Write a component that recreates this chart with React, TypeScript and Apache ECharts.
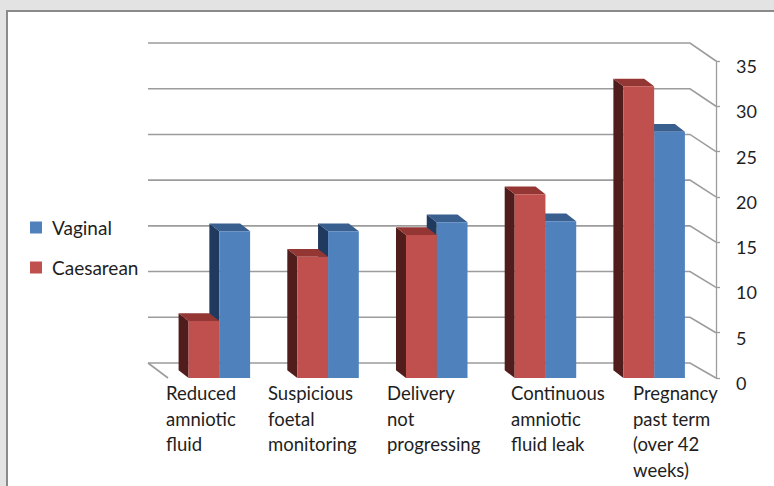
import React, { useEffect, useRef } from 'react';
import * as echarts from 'echarts';

// ---------- data ----------
const categories = [
  'Reduced\namniotic\nfluid',
  'Suspicious\nfoetal\nmonitoring',
  'Delivery\nnot\nprogressing',
  'Continuous\namniotic\nfluid leak',
  'Pregnancy\npast term\n(over 42\nweeks)',
];
const vaginal = [16.2, 16.2, 17.2, 17.3, 27.2];
const caesarean = [6.3, 13.4, 15.8, 20.3, 32.2];
const yTicks = [0, 5, 10, 15, 20, 25, 30, 35];
const seriesNames = ['Vaginal', 'Caesarean'];

// ---------- style / layout ----------
const FONT = 'Lato, "Noto Sans", "DejaVu Sans", sans-serif';
const TEXT = '#1e1e1e';
const GRID_COLOR = '#9c9c9c';
const RED = { front: '#C0504D', side: '#511d1c', top: '#933634' };
const BLUE = { front: '#4F81BD', side: '#1f3a5e', top: '#395f8f' };
const DEPTH_X = -10;
const DEPTH_Y = -7.7;
const BAR_FRAC = 0.283;
const AXIS_OFFSET = 7.5;
const BACK_DX_LEFT = -17;
const BACK_DX_RIGHT = -18.5;
const BACK_DY_BOTTOM = -15;
const BACK_DY_TOP = -18;
const LABEL_GRID_LEFT = 92;
const LABEL_BAND = 117;
const LABEL_LEFTS = [166, 268, 387, 511, 633];

function barRenderer(side: 'left' | 'right', colors: { front: string; side: string; top: string }) {
  return (params: any, api: any) => {
    const idx = api.value(0);
    const val = api.value(1);
    const base = api.coord([idx, 0]);
    const cx = base[0];
    const yb = base[1];
    const yt = api.coord([idx, val])[1];
    const band = api.size([1, 0])[0];
    const w = band * BAR_FRAC;
    const x0 = side === 'left' ? cx - w : cx;
    const x1 = x0 + w;
    return {
      type: 'group',
      children: [
        {
          type: 'polygon',
          shape: { points: [[x0, yt], [x0 + DEPTH_X, yt + DEPTH_Y], [x0 + DEPTH_X, yb + DEPTH_Y], [x0, yb]] },
          style: { fill: colors.side },
        },
        {
          type: 'polygon',
          shape: { points: [[x0, yt], [x1, yt], [x1 + DEPTH_X, yt + DEPTH_Y], [x0 + DEPTH_X, yt + DEPTH_Y]] },
          style: { fill: colors.top },
        },
        {
          type: 'rect',
          shape: { x: x0, y: yt, width: w, height: yb - yt },
          style: { fill: colors.front },
        },
      ],
    };
  };
}

function gridRenderer(params: any, api: any) {
  const cs = params.coordSys;
  const v = api.value(1);
  const y = api.coord([0, v])[1];
  const bottom = cs.y + cs.height;
  const frac = (bottom - y) / cs.height;
  const by = y + BACK_DY_BOTTOM + (BACK_DY_TOP - BACK_DY_BOTTOM) * frac;
  const bl = cs.x + BACK_DX_LEFT;
  const br = cs.x + cs.width + BACK_DX_RIGHT;
  const ax = cs.x + cs.width + AXIS_OFFSET;
  const style = { stroke: GRID_COLOR, lineWidth: 1.6, fill: 'none' };
  const children: any[] = [
    { type: 'polyline', shape: { points: [[bl, by], [br, by], [ax, y]] }, style },
  ];
  if (v === 0) {
    children.push({ type: 'line', shape: { x1: bl, y1: by, x2: cs.x + 3, y2: bottom }, style });
  }
  return { type: 'group', children };
}

export default function App() {
  const ref = useRef<HTMLDivElement>(null);

  useEffect(() => {
    if (!ref.current) return;
    const chart = echarts.init(ref.current, undefined, { renderer: 'svg' });

    const rich: any = {};
    categories.forEach((_, i) => {
      const tickX = LABEL_GRID_LEFT + LABEL_BAND * (i + 0.5);
      rich['p' + i] = {
        fontFamily: FONT,
        fontSize: 18.5,
        lineHeight: 25.7,
        color: TEXT,
        padding: [0, 0, 0, Math.max(0, LABEL_LEFTS[i] - tickX)],
      };
    });

    chart.setOption({
      animation: false,
      backgroundColor: '#e3e3e3',
      graphic: {
        elements: [
          {
            type: 'rect',
            z: -10,
            shape: { x: 7, y: 11, width: 800, height: 500 },
            style: { fill: '#ffffff', stroke: '#8a8a8a', lineWidth: 2 },
          },
        ],
      },
      legend: {
        data: seriesNames,
        orient: 'vertical',
        left: 30,
        top: 218,
        padding: 0,
        itemGap: 21,
        itemWidth: 12,
        itemHeight: 12,
        icon: 'rect',
        textStyle: { fontFamily: FONT, fontSize: 19, color: TEXT, padding: [0, 0, 10, 5] },
      },
      grid: [
        { left: 165, right: 65.5, top: 61, bottom: 108 },
        { left: LABEL_GRID_LEFT, width: LABEL_BAND * categories.length, top: 300, height: 78 },
      ],
      xAxis: [
        {
          type: 'category',
          gridIndex: 0,
          data: categories,
          axisLine: { show: false },
          axisTick: { show: false },
          axisLabel: { show: false },
        },
        {
          type: 'category',
          gridIndex: 1,
          data: categories,
          axisLine: { show: false },
          axisTick: { show: false },
          axisLabel: {
            show: true,
            interval: 0,
            align: 'left',
            verticalAlign: 'top',
            margin: 2,
            formatter: (val: string, i: number) =>
              val.split('\n').map((l) => `{p${i}|${l}}`).join('\n'),
            rich,
          },
        },
      ],
      yAxis: [
        {
          type: 'value',
          gridIndex: 0,
          position: 'right',
          offset: AXIS_OFFSET,
          min: 0,
          max: 35,
          interval: 5,
          splitLine: { show: false },
          axisLine: { show: true, lineStyle: { color: GRID_COLOR, width: 1.3 } },
          axisTick: { show: true, length: 4, lineStyle: { color: GRID_COLOR, width: 1.3 } },
          axisLabel: {
            show: true,
            margin: 20,
            fontFamily: FONT,
            fontSize: 18,
            color: TEXT,
            verticalAlign: 'top',
            lineHeight: 10,
          },
        },
        { type: 'value', gridIndex: 1, show: false },
      ],
      series: [
        {
          type: 'custom',
          name: 'grid',
          silent: true,
          xAxisIndex: 0,
          yAxisIndex: 0,
          data: yTicks.map((v) => [0, v]),
          encode: { x: 0, y: 1 },
          renderItem: gridRenderer,
          z: 1,
        },
        {
          type: 'custom',
          name: 'Vaginal',
          xAxisIndex: 0,
          yAxisIndex: 0,
          itemStyle: { color: BLUE.front },
          data: vaginal.map((v, i) => [i, v]),
          encode: { x: 0, y: 1 },
          renderItem: barRenderer('right', BLUE),
          z: 2,
        },
        {
          type: 'custom',
          name: 'Caesarean',
          xAxisIndex: 0,
          yAxisIndex: 0,
          itemStyle: { color: RED.front },
          data: caesarean.map((v, i) => [i, v]),
          encode: { x: 0, y: 1 },
          renderItem: barRenderer('left', RED),
          z: 3,
        },
      ],
    });

    return () => chart.dispose();
  }, []);

  return (
    <div
      ref={ref}
      style={{ position: 'fixed', left: 0, top: 0, width: 774, height: 486 }}
    />
  );
}
